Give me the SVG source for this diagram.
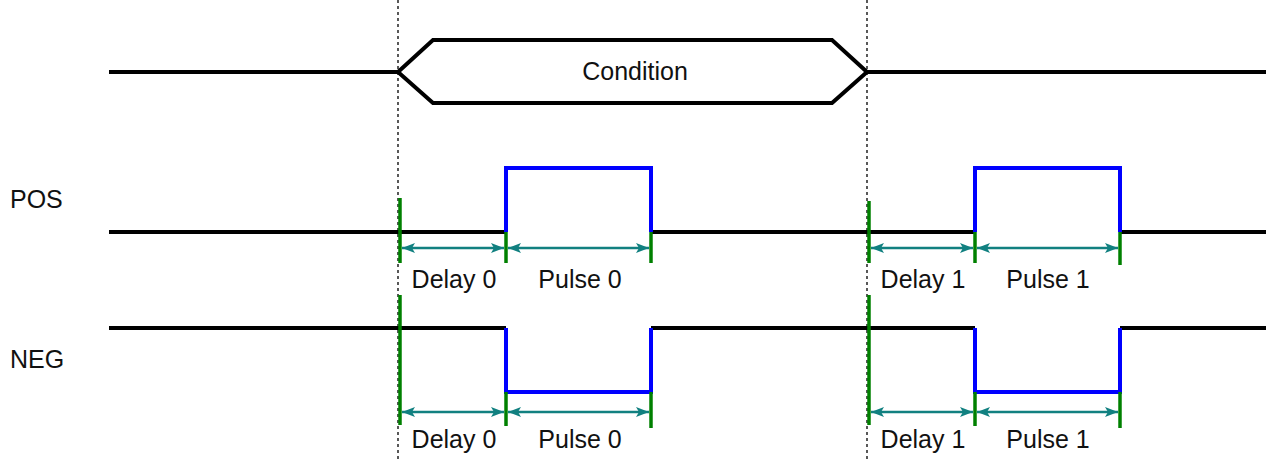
<svg xmlns="http://www.w3.org/2000/svg" width="1276" height="461" viewBox="0 0 1276 461">
<style>
.sig{fill:none;stroke:#000;stroke-width:4}
.pulse{fill:none;stroke:#0000ff;stroke-width:4}
.mark{stroke:#008000;stroke-width:3.5}
.dim{stroke:#118080;stroke-width:2.5;marker-start:url(#ah);marker-end:url(#ah)}
.guide{stroke:#000;stroke-width:1.3;stroke-dasharray:3 3}
.t{font-family:"Liberation Sans",Arial,sans-serif;font-size:25px;fill:#111}
</style>
<defs>
<marker id="ah" viewBox="0 0 14 10" refX="14" refY="5" markerWidth="14" markerHeight="10" markerUnits="userSpaceOnUse" orient="auto-start-reverse">
<path d="M14,5 L1,0 L4,5 L1,10 Z" fill="#118080"/>
</marker>
</defs>
<g id="guides">
<line class="guide" x1="398" y1="0" x2="398" y2="461"/>
<line class="guide" x1="867" y1="0" x2="867" y2="461"/>
</g>
<g id="condition">
<path class="sig" d="M109,72 H398 M867,72 H1266"/>
<path class="sig" d="M398,72 L433,40 H832 L867,72 L832,103 H433 Z" stroke-linejoin="miter"/>
<text class="t" x="635" y="80" text-anchor="middle">Condition</text>
</g>
<g id="pos">
<text class="t" x="10" y="208">POS</text>
<path class="sig" d="M109,232 H506 M651,232 H975 M1120,232 H1266"/>
<path class="pulse" d="M506,232 V168 H651 V232"/>
<path class="pulse" d="M975,232 V168 H1120 V232"/>
</g>
<g id="neg">
<text class="t" x="10" y="368">NEG</text>
<path class="sig" d="M109,328 H506 M651,328 H975 M1120,328 H1266"/>
<path class="pulse" d="M506,328 V392 H651 V328"/>
<path class="pulse" d="M975,328 V392 H1120 V328"/>
</g>
<g id="markers">
<line class="mark" x1="400" y1="198" x2="400" y2="263"/>
<line class="mark" x1="506" y1="232" x2="506" y2="263"/>
<line class="mark" x1="651" y1="232" x2="651" y2="263"/>
<line class="mark" x1="869" y1="201" x2="869" y2="263"/>
<line class="mark" x1="975" y1="232" x2="975" y2="263"/>
<line class="mark" x1="1120" y1="232" x2="1120" y2="265"/>
<line class="mark" x1="400" y1="295" x2="400" y2="425"/>
<line class="mark" x1="506" y1="392" x2="506" y2="426"/>
<line class="mark" x1="651" y1="392" x2="651" y2="428"/>
<line class="mark" x1="869" y1="295" x2="869" y2="425"/>
<line class="mark" x1="975" y1="392" x2="975" y2="426"/>
<line class="mark" x1="1120" y1="392" x2="1120" y2="428"/>
</g>
<g id="connectors">
<line class="dim" x1="402" y1="248" x2="504" y2="248"/>
<line class="dim" x1="508" y1="248" x2="649" y2="248"/>
<line class="dim" x1="871" y1="248" x2="973" y2="248"/>
<line class="dim" x1="977" y1="248" x2="1118" y2="248"/>
<line class="dim" x1="402" y1="412" x2="504" y2="412"/>
<line class="dim" x1="508" y1="412" x2="649" y2="412"/>
<line class="dim" x1="871" y1="412" x2="973" y2="412"/>
<line class="dim" x1="977" y1="412" x2="1118" y2="412"/>
</g>
<g id="labels">
<text class="t" x="454" y="288" text-anchor="middle">Delay 0</text>
<text class="t" x="580" y="288" text-anchor="middle">Pulse 0</text>
<text class="t" x="923" y="288" text-anchor="middle">Delay 1</text>
<text class="t" x="1048" y="288" text-anchor="middle">Pulse 1</text>
<text class="t" x="454" y="448" text-anchor="middle">Delay 0</text>
<text class="t" x="580" y="448" text-anchor="middle">Pulse 0</text>
<text class="t" x="923" y="448" text-anchor="middle">Delay 1</text>
<text class="t" x="1048" y="448" text-anchor="middle">Pulse 1</text>
</g>
</svg>
